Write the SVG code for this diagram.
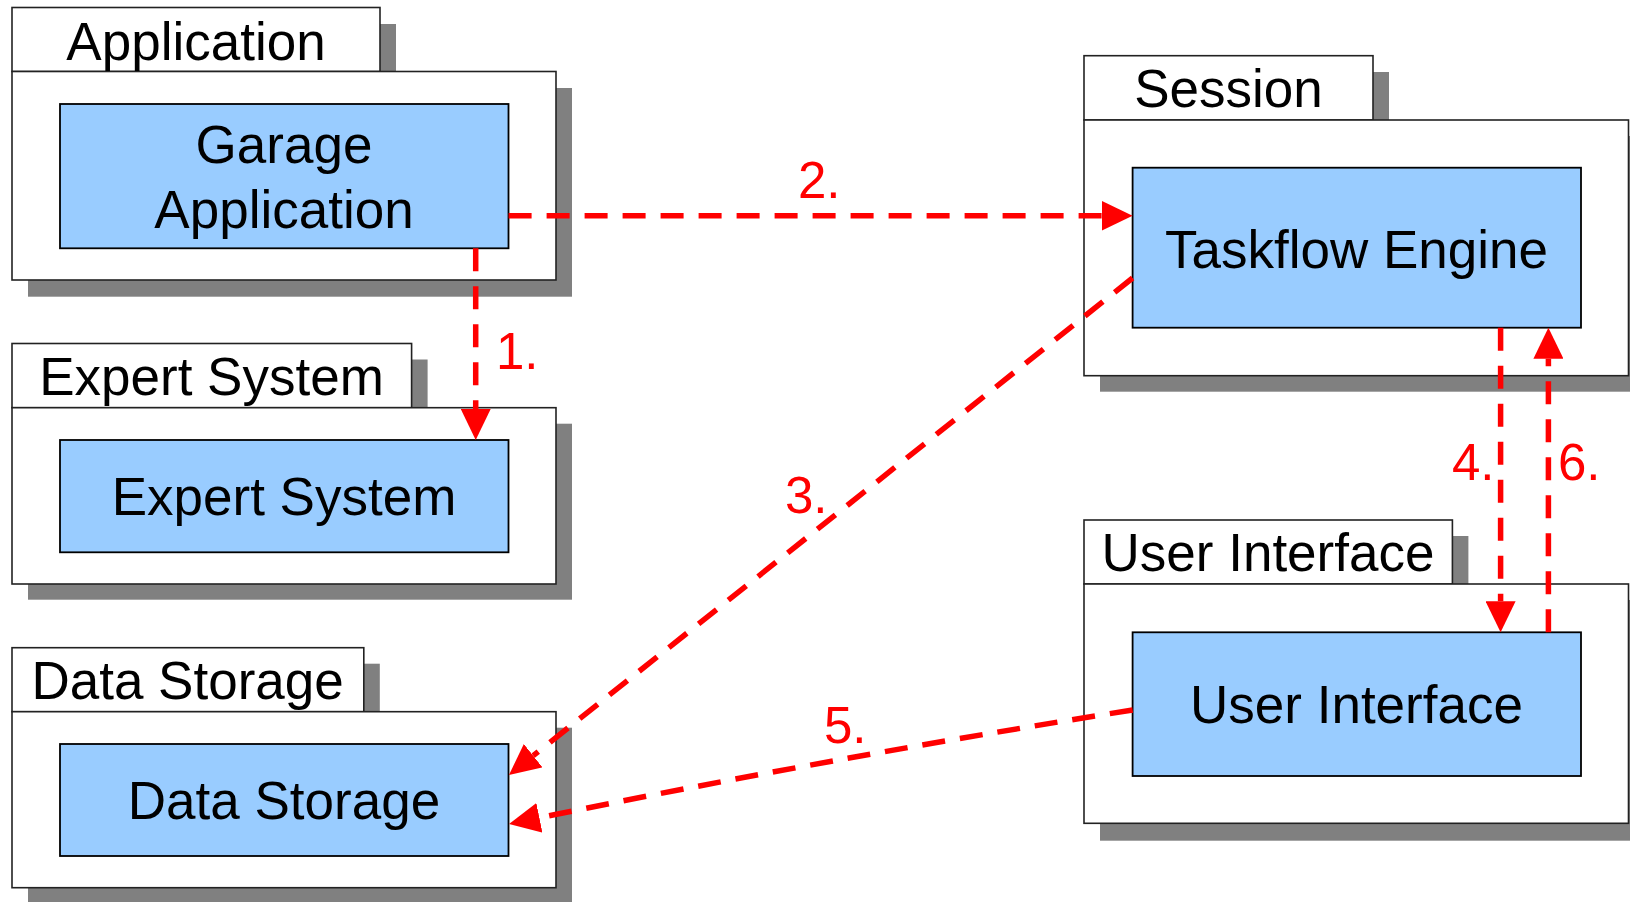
<svg xmlns="http://www.w3.org/2000/svg" width="1630" height="902" viewBox="0 0 1630 902">
<style>
.shadow{fill:#808080;stroke:none}
.pkg{fill:#ffffff;stroke:#222222;stroke-width:1.6}
.comp{fill:#99ccff;stroke:#000000;stroke-width:1.8}
.t{font-family:"Liberation Sans",Arial,sans-serif;font-size:53px;fill:#000000;text-anchor:middle}
.lbl{font-family:"Liberation Sans",Arial,sans-serif;font-size:51px;fill:#ff0000}
.con{fill:none;stroke:#ff0000;stroke-width:5.5;stroke-dasharray:23 15}
</style>
<defs>
<marker id="ah" markerUnits="userSpaceOnUse" markerWidth="31" markerHeight="30" refX="0" refY="15" orient="auto" viewBox="0 0 31 30">
<path d="M0,0 L31,15 L0,30 Z" fill="#ff0000"/>
</marker>
</defs>
<rect width="1630" height="902" fill="#ffffff"/>

<g id="application">
<rect class="shadow" x="28" y="24" width="368" height="64"/>
<rect class="shadow" x="28" y="88" width="544" height="208.7"/>
<rect class="pkg" x="12" y="7.5" width="368" height="64"/>
<rect class="pkg" x="12" y="71.5" width="544" height="208.5"/>
<g id="garage-application">
<rect class="comp" x="60" y="104" width="448.5" height="144.3"/>
<text class="t" x="284" y="163">Garage</text>
<text class="t" x="284" y="227.5">Application</text>
</g>
<text class="t" x="196" y="60">Application</text>
</g>

<g id="expert-system-pkg">
<rect class="shadow" x="28" y="359.5" width="399.6" height="64"/>
<rect class="shadow" x="28" y="423.7" width="544" height="176"/>
<rect class="pkg" x="12" y="343.5" width="399.6" height="64.2"/>
<rect class="pkg" x="12" y="407.7" width="544" height="176.3"/>
<g id="expert-system">
<rect class="comp" x="60" y="440" width="448.5" height="112.3"/>
<text class="t" x="284" y="515">Expert System</text>
</g>
<text class="t" x="211.5" y="395">Expert System</text>
</g>

<g id="data-storage-pkg">
<rect class="shadow" x="28" y="663.7" width="351.8" height="64"/>
<rect class="shadow" x="28" y="727.7" width="544" height="176"/>
<rect class="pkg" x="12" y="647.7" width="351.8" height="64"/>
<rect class="pkg" x="12" y="711.7" width="544" height="176"/>
<g id="data-storage">
<rect class="comp" x="60" y="744" width="448.5" height="112"/>
<text class="t" x="284" y="819.3">Data Storage</text>
</g>
<text class="t" x="187.6" y="699">Data Storage</text>
</g>

<g id="session-pkg">
<rect class="shadow" x="1100" y="72" width="289" height="64"/>
<rect class="shadow" x="1100" y="136" width="544" height="255.7"/>
<rect class="pkg" x="1084" y="55.7" width="289" height="64.3"/>
<rect class="pkg" x="1084" y="120" width="544.5" height="255.7"/>
<g id="taskflow-engine">
<rect class="comp" x="1132.6" y="167.7" width="448.4" height="160"/>
<text class="t" x="1356.5" y="267.7">Taskflow Engine</text>
</g>
<text class="t" x="1228.5" y="106.7">Session</text>
</g>

<g id="user-interface-pkg">
<rect class="shadow" x="1100" y="536" width="368.4" height="64"/>
<rect class="shadow" x="1100" y="600" width="544" height="240.7"/>
<rect class="pkg" x="1084" y="520" width="368.4" height="64"/>
<rect class="pkg" x="1084" y="584" width="544.5" height="239.3"/>
<g id="user-interface">
<rect class="comp" x="1132.6" y="632.3" width="448.4" height="143.7"/>
<text class="t" x="1356.5" y="723.3">User Interface</text>
</g>
<text class="t" x="1268" y="570.7">User Interface</text>
</g>

<g id="connectors">
<path class="con" d="M475.7,248.3 L475.7,409" marker-end="url(#ah)"/>
<path class="con" d="M508.6,215.8 L1101.6,215.8" marker-end="url(#ah)"/>
<path class="con" d="M1132.6,278 L533.2,755.7" marker-end="url(#ah)"/>
<path class="con" d="M1500.6,327.7 L1500.6,601.3" marker-end="url(#ah)"/>
<path class="con" d="M1132.6,710 Q830,758 539.4,817.8" marker-end="url(#ah)"/>
<path class="con" d="M1548.4,632.3 L1548.4,358.7" marker-end="url(#ah)"/>
<text class="lbl" x="496" y="369.3">1.</text>
<text class="lbl" x="798" y="197.5">2.</text>
<text class="lbl" x="785" y="513.3">3.</text>
<text class="lbl" x="1452" y="480">4.</text>
<text class="lbl" x="824" y="743.3">5.</text>
<text class="lbl" x="1558" y="480">6.</text>
</g>
</svg>
